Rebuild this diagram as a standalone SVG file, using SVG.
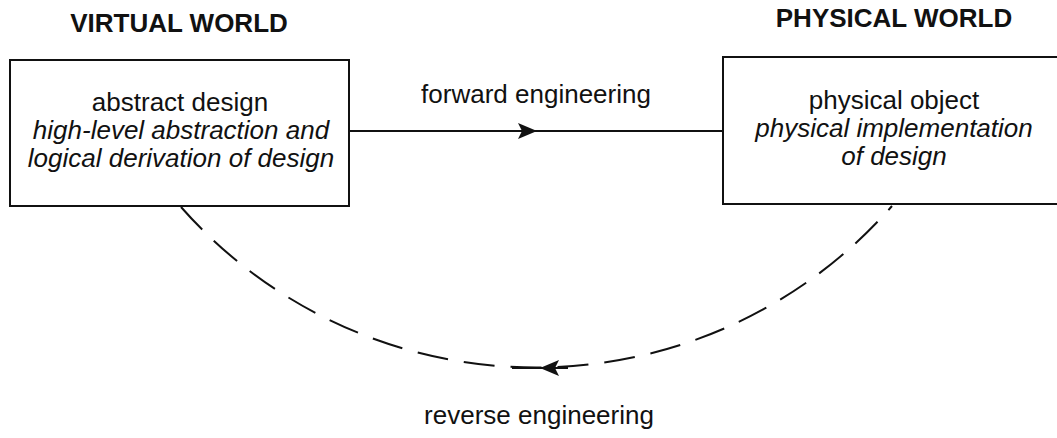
<svg xmlns="http://www.w3.org/2000/svg" width="1057" height="438" viewBox="0 0 1057 438">
<style>
text{font-family:"Liberation Sans",Arial,sans-serif;font-size:26px;fill:#111;text-anchor:middle}
.h{font-weight:bold}
.i{font-style:italic}
.box{fill:#fff;stroke:#111;stroke-width:2}
.ln{fill:none;stroke:#111;stroke-width:2}
.dash{stroke-dasharray:31 16}
.ah{fill:#111;stroke:none}
</style>
<rect width="1057" height="438" fill="#fff"/>
<g id="connectors">
<path class="ln" d="M349 131 H723"/>
<path class="ah" d="M537 131 L518 123 L522 131 L518 139 Z"/>
<path class="ln dash" d="M181 207 A473 473 0 0 0 892 206"/>
<path class="ln" d="M512 368 H568"/>
<path class="ah" d="M540 368 L559 360 L555 368 L559 376 Z"/>
<text x="536" y="103">forward engineering</text>
<text x="539" y="424">reverse engineering</text>
</g>
<g id="virtual-heading"><text class="h" x="179" y="32">VIRTUAL WORLD</text></g>
<g id="physical-heading"><text class="h" x="894" y="27">PHYSICAL WORLD</text></g>
<g id="abstract-design">
<rect class="box" x="10" y="60" width="339" height="146"/>
<text x="180" y="111">abstract design</text>
<text class="i" x="181" y="139">high-level abstraction and</text>
<text class="i" x="181" y="167">logical derivation of design</text>
</g>
<g id="physical-object">
<rect class="box" x="723" y="57" width="360" height="147"/>
<text x="894" y="109">physical object</text>
<text class="i" x="894" y="137">physical implementation</text>
<text class="i" x="894" y="165">of design</text>
</g>
</svg>
